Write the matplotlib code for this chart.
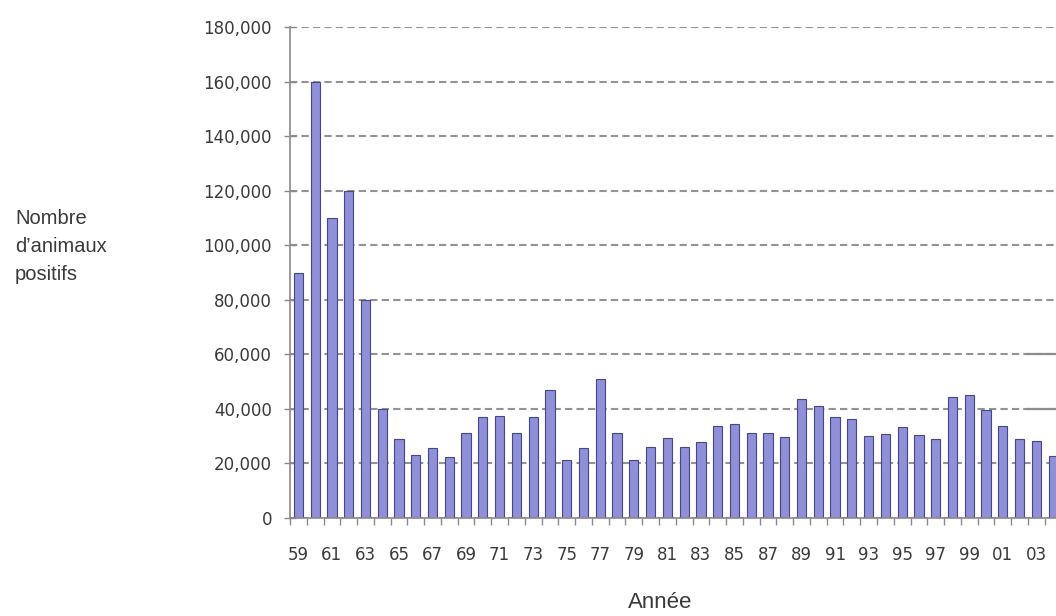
import matplotlib
matplotlib.use("Agg")
import matplotlib.pyplot as plt
from matplotlib.ticker import FixedLocator, FuncFormatter

# Nombre d'animaux positifs par année (1959-2004)
years = list(range(1959, 2005))
positives = [90000, 160000, 110000, 120000, 80000, 40000, 29000, 23000, 25500, 22300,
             31200, 37100, 37500, 31200, 37100, 46900, 21300, 25500, 51100, 31200,
             21300, 26200, 29500, 26100, 27900, 33700, 34400, 31200, 31200, 29600,
             43500, 41200, 37000, 36400, 30000, 30800, 33400, 30300, 28800, 44400,
             45100, 39700, 33700, 28800, 28400, 22800]
label_years = list(range(1959, 2004, 2))
y_ticks = list(range(0, 180001, 20000))

bar_color = "#9090d8"
edge_color = "#46468a"
text_color = "#3a3a3a"
axis_color = "#8a8a8a"

fig = plt.figure(figsize=(10.56, 6.16), dpi=100)
ax = fig.add_axes([290 / 1056, 98 / 616, 766 / 1056, 491 / 616])

ax.bar(years, positives, width=0.55, color=bar_color, edgecolor=edge_color,
       linewidth=0.8, zorder=3)

ax.set_xlim(1958.52, 2004.17)
ax.set_ylim(0, 180000)

# horizontal dashed grid
ax.yaxis.set_major_locator(FixedLocator(y_ticks))
ax.yaxis.grid(True, linestyle=(0, (3.5, 2)), color="#939393", linewidth=1.5, zorder=1)
ax.xaxis.grid(False)
# short solid segments visible at the right edge
for yv in (60000, 40000):
    ax.axhline(yv, xmin=0.962, xmax=1.0, color="#8c8c8c", linewidth=1.6, zorder=2)

ax.yaxis.set_major_formatter(FuncFormatter(lambda v, p: f"{int(v):,}"))
ax.tick_params(axis="y", direction="inout", length=8, width=1, color=axis_color,
               pad=9, labelsize=12, labelcolor=text_color)

# x labels every 2 years, tick marks between categories
ax.set_xticks(label_years)
ax.set_xticklabels([f"{y % 100:02d}" for y in label_years])
ax.set_xticks([y + 0.5 for y in years[:-1]] + [1958.5], minor=True)
ax.tick_params(axis="x", which="major", length=0, pad=20, labelsize=12,
               labelcolor=text_color)
ax.tick_params(axis="x", which="minor", direction="out", length=5, width=1,
               color=axis_color)

for side in ("top", "right"):
    ax.spines[side].set_visible(False)
for side in ("left", "bottom"):
    ax.spines[side].set_color(axis_color)
    ax.spines[side].set_linewidth(1.2)
    ax.spines[side].set_zorder(4)

for lbl in ax.get_xticklabels() + ax.get_yticklabels():
    lbl.set_family("DejaVu Sans")

fig.text(15 / 1056, 1 - 247 / 616, "Nombre\nd\u2019animaux\npositifs", ha="left",
         va="center", fontsize=14.5, family="Liberation Sans", color=text_color,
         linespacing=1.6)
fig.text(660 / 1056, 1 - 603 / 616, "Année", ha="center", va="center",
         fontsize=16, family="Liberation Sans", color=text_color)

fig.savefig("out.png", dpi=100)
